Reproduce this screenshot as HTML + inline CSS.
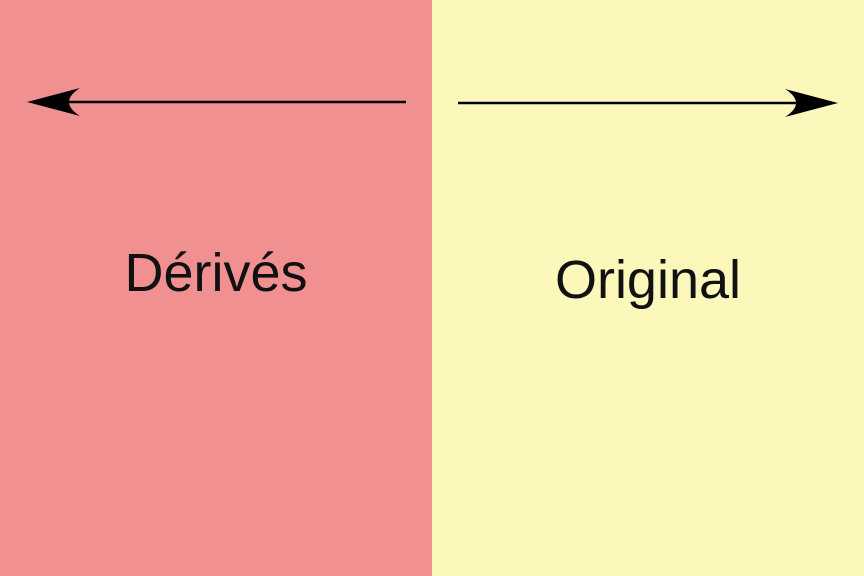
<!DOCTYPE html>
<html><head><meta charset="utf-8"><style>
html,body{margin:0;padding:0;width:864px;height:576px;overflow:hidden}
body{position:relative;font-family:"Liberation Sans",sans-serif}
.panel{position:absolute;top:0;height:576px}
.lbl{position:absolute;font-size:54px;color:#111;text-align:center;width:432px}
</style></head><body>
<div class="panel" style="left:0;width:432px;background:#F09091"></div>
<div class="panel" style="left:432px;width:432px;background:#FCF8BB"></div>
<svg width="864" height="576" style="position:absolute;left:0;top:0">
<g>
<line x1="406" y1="102" x2="34" y2="102" stroke="#000" stroke-width="2.5"/>
<path d="M27 102 L80 88 Q58 102 80 116 Z" fill="#000"/>
</g>
<g>
<line x1="458" y1="103" x2="830" y2="103" stroke="#000" stroke-width="2.5"/>
<path d="M838 103 L785 89 Q807 103 785 117 Z" fill="#000"/>
</g>
</svg>
<div class="lbl" style="left:0;top:242px">Dérivés</div>
<div class="lbl" style="left:432px;top:249px">Original</div>
</body></html>
